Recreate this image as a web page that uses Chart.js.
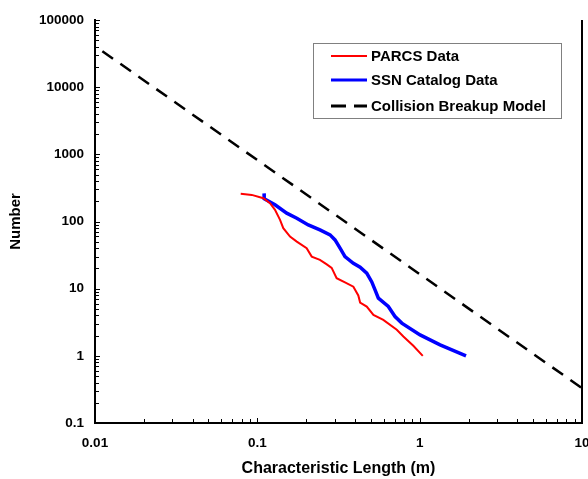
<!DOCTYPE html>
<html>
<head>
<meta charset="utf-8">
<script src="https://cdn.jsdelivr.net/npm/chart.js@4.4.0/dist/chart.umd.min.js"></script>
<style>
  html, body { margin: 0; padding: 0; background: #fff; }
  #wrap { width: 588px; height: 479px; position: relative; }
</style>
</head>
<body>
<div id="wrap"><canvas id="c" width="588" height="479"></canvas></div>
<script>
// ---- data ----
const parcsX = [0.0790, 0.0924, 0.1089, 0.1197, 0.1285, 0.1380, 0.1445, 0.159, 0.175, 0.2013, 0.2163, 0.243, 0.2677, 0.287, 0.308, 0.3467, 0.3905, 0.4188, 0.4297, 0.472, 0.519, 0.597, 0.7228, 0.7937, 0.914, 1.045];
const parcsY = [258, 249, 222, 187, 149, 105.6, 79.4, 59.6, 50.2, 40.1, 30.0, 26.8, 23.0, 20.4, 14.3, 12.4, 10.7, 7.94, 6.21, 5.42, 4.07, 3.43, 2.44, 1.94, 1.41, 1.0];

const ssnX = [0.110, 0.1102, 0.1285, 0.1517, 0.175, 0.206, 0.243, 0.2806, 0.301, 0.3233, 0.3467, 0.3905, 0.4297, 0.472, 0.507, 0.531, 0.5566, 0.641, 0.705, 0.776, 1.006, 1.336, 1.93];
const ssnY = [262, 218, 177, 133, 112, 89, 75, 63.2, 53.2, 40.1, 30.0, 23.9, 20.9, 17.0, 12.6, 9.6, 7.22, 5.42, 3.85, 3.07, 2.05, 1.46, 1.0];

const modelX = [0.01, 10];
const modelY = [41000, 0.33];

const seriesNames = ['PARCS Data', 'SSN Catalog Data', 'Collision Breakup Model'];

const xTicks = [0.01, 0.1, 1, 10];
const xTickLabels = ['0.01', '0.1', '1', '10'];
const yTicks = [0.1, 1, 10, 100, 1000, 10000, 100000];
const yTickLabels = ['0.1', '1', '10', '100', '1000', '10000', '100000'];

const xTitle = 'Characteristic Length (m)';
const yTitle = 'Number';

// ---- chart ----
const FONT = '"Liberation Sans", Arial, Helvetica, sans-serif';
const toPts = (xs, ys) => xs.map((x, i) => ({ x: x, y: ys[i] }));

const colors = ['#ff0000', '#0000ff', '#000000'];
const widths = [2, 3.5, 2.5];
const dashes = [[], [], [13, 9]];

const extras = {
  id: 'extras',
  afterDraw(chart) {
    const ctx = chart.ctx;
    const a = chart.chartArea;
    const xs = chart.scales.x, ys = chart.scales.y;
    ctx.save();
    // right border
    ctx.strokeStyle = '#000';
    ctx.lineWidth = 2;
    ctx.beginPath();
    ctx.moveTo(a.right, a.top);
    ctx.lineTo(a.right, a.bottom + 1);
    ctx.stroke();
    // inward ticks
    ctx.lineWidth = 1;
    ctx.beginPath();
    for (let d = -1; d <= 4; d++) {
      for (let k = 1; k <= 9; k++) {
        const v = k * Math.pow(10, d);
        const py = Math.round(ys.getPixelForValue(v)) + 0.5;
        const len = k === 1 ? 5 : 4;
        ctx.moveTo(a.left, py); ctx.lineTo(a.left + len, py);
      }
    }
    const py = Math.round(ys.getPixelForValue(100000)) + 0.5;
    ctx.moveTo(a.left, py); ctx.lineTo(a.left + 5, py);
    for (let d = -2; d <= 0; d++) {
      for (let k = 1; k <= 9; k++) {
        const v = k * Math.pow(10, d);
        const px = Math.round(xs.getPixelForValue(v)) + 0.5;
        const len = k === 1 ? 5 : 4;
        ctx.moveTo(px, a.bottom); ctx.lineTo(px, a.bottom - len);
      }
    }
    ctx.stroke();

    // legend
    const bx = a.left + 218, by = a.top + 23, bw = 248, bh = 75;
    ctx.fillStyle = '#fff';
    ctx.fillRect(bx, by, bw, bh);
    ctx.strokeStyle = '#808080';
    ctx.lineWidth = 1;
    ctx.strokeRect(bx + 0.5, by + 0.5, bw, bh);
    const rows = [by + 13, by + 37, by + 63];
    ctx.font = 'bold 15px ' + FONT;
    ctx.textBaseline = 'middle';
    ctx.textAlign = 'left';
    seriesNames.forEach((name, i) => {
      ctx.strokeStyle = colors[i];
      ctx.lineWidth = i === 2 ? 3 : (i === 1 ? 3 : 2);
      ctx.setLineDash(i === 2 ? [15, 8] : []);
      ctx.beginPath();
      ctx.moveTo(bx + 18, rows[i]);
      ctx.lineTo(bx + 54, rows[i]);
      ctx.stroke();
      ctx.setLineDash([]);
      ctx.fillStyle = '#000';
      ctx.fillText(name, bx + 58, rows[i] + 1);
    });
    ctx.restore();
  }
};

new Chart(document.getElementById('c'), {
  type: 'scatter',
  data: {
    datasets: [
      { label: seriesNames[0], data: toPts(parcsX, parcsY) },
      { label: seriesNames[1], data: toPts(ssnX, ssnY) },
      { label: seriesNames[2], data: toPts(modelX, modelY) }
    ].map((d, i) => Object.assign(d, {
      showLine: true,
      borderColor: colors[i],
      backgroundColor: colors[i],
      borderWidth: widths[i],
      borderDash: dashes[i],
      borderDashOffset: i === 2 ? 13 : 0,
      pointRadius: 0,
      tension: 0,
      fill: false
    }))
  },
  options: {
    responsive: false,
    animation: false,
    devicePixelRatio: 1,
    layout: { padding: { top: 20, right: 6, bottom: 0, left: 0 } },
    plugins: { legend: { display: false }, tooltip: { enabled: false } },
    scales: {
      x: {
        type: 'logarithmic',
        min: 0.01, max: 10,
        grid: { display: false, drawTicks: false },
        border: { display: true, color: '#000', width: 2 },
        ticks: {
          color: '#000', padding: 12, autoSkip: false, maxRotation: 0,
          font: { family: FONT, size: 13.5, weight: 'bold' },
          callback: (v) => { const i = xTicks.indexOf(v); return i >= 0 ? xTickLabels[i] : ''; }
        },
        title: {
          display: true, text: xTitle, color: '#000',
          font: { family: FONT, size: 16, weight: 'bold' },
          padding: { top: 1, bottom: 1 }
        },
        afterBuildTicks: (s) => { s.ticks = xTicks.map(v => ({ value: v, major: true })); },
        afterFit: (s) => { s.height = 56; s.paddingLeft = 0; s.paddingRight = 0; }
      },
      y: {
        type: 'logarithmic',
        min: 0.1, max: 100000,
        grid: { display: false, drawTicks: false },
        border: { display: true, color: '#000', width: 2 },
        ticks: {
          color: '#000', padding: 11, autoSkip: false,
          font: { family: FONT, size: 13.5, weight: 'bold' },
          callback: (v) => { const i = yTicks.indexOf(v); return i >= 0 ? yTickLabels[i] : ''; }
        },
        title: {
          display: true, text: yTitle, color: '#000',
          font: { family: FONT, size: 15, weight: 'bold' },
          padding: { top: 7, bottom: 7 }
        },
        afterBuildTicks: (s) => { s.ticks = yTicks.map(v => ({ value: v, major: true })); },
        afterFit: (s) => { s.width = 95; s.paddingTop = 0; s.paddingBottom = 0; }
      }
    }
  },
  plugins: [extras]
});
</script>
</body>
</html>
